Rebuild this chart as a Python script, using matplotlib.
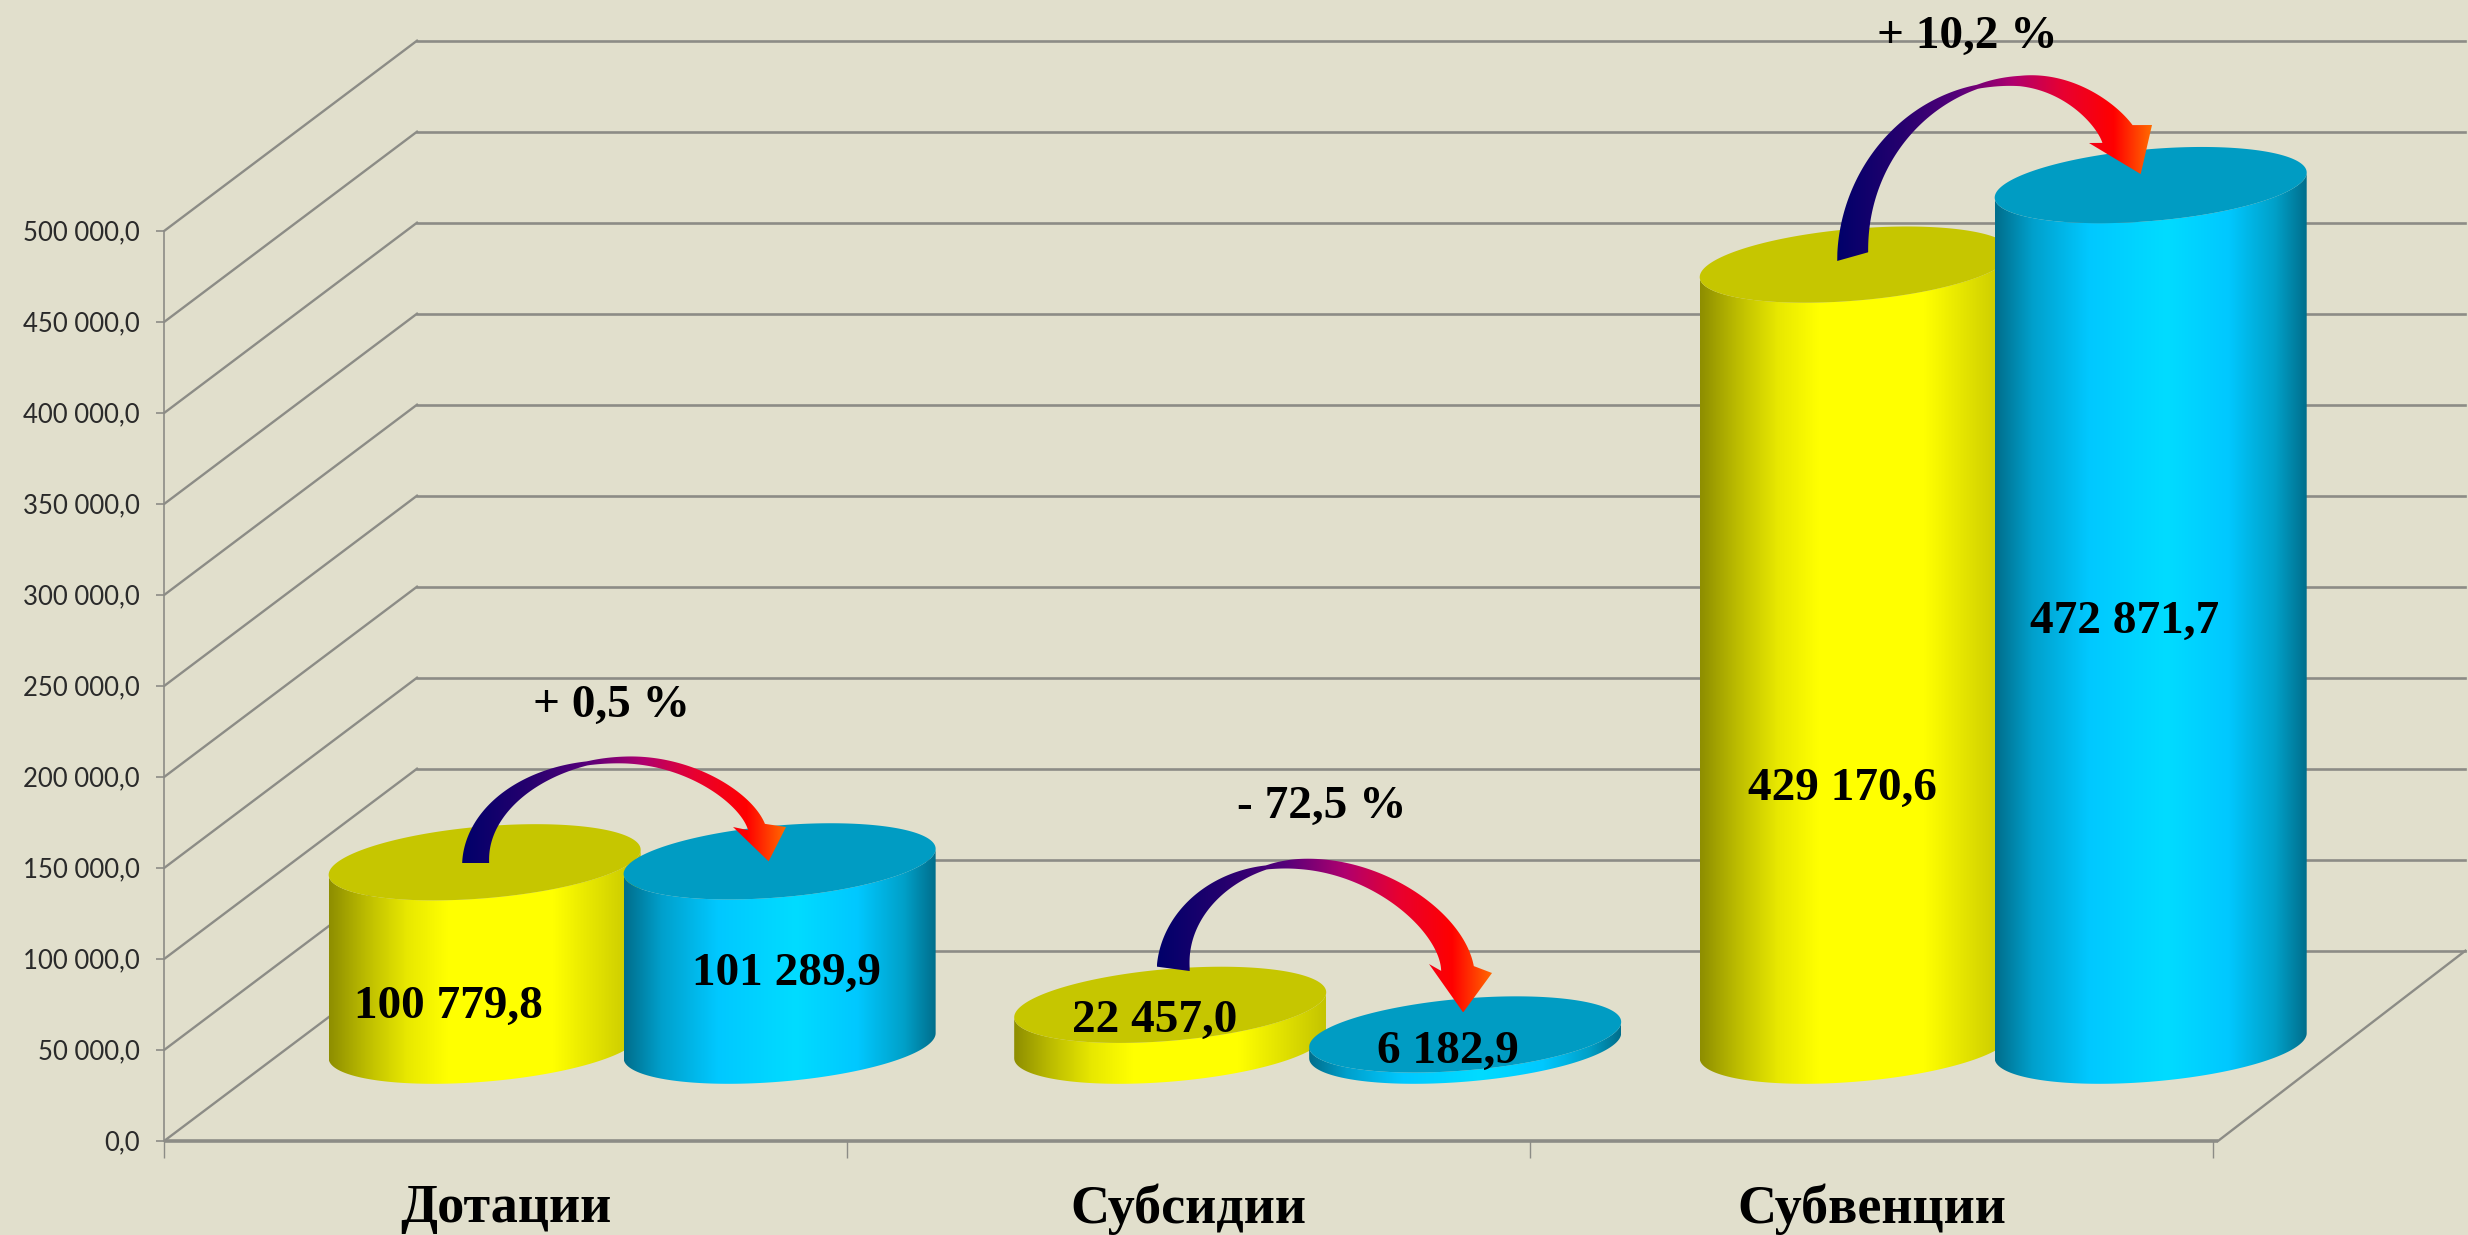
import numpy as np
import matplotlib
matplotlib.use('Agg')
import matplotlib.pyplot as plt
from matplotlib.colors import LinearSegmentedColormap
from matplotlib.patches import Polygon

# Dades
categories = ['Дотации', 'Субсидии', 'Субвенции']
values_yellow = [100779.8, 22457.0, 429170.6]
values_blue = [101289.9, 6182.9, 472871.7]
changes = ['+ 0,5 %', '- 72,5 %', '+ 10,2 %']
y_ticks = [0, 50000, 100000, 150000, 200000, 250000, 300000, 350000, 400000, 450000, 500000]
y_tick_labels = ['0,0', '50 000,0', '100 000,0', '150 000,0', '200 000,0', '250 000,0',
                 '300 000,0', '350 000,0', '400 000,0', '450 000,0', '500 000,0']

# Escales (pixels de la figura)
W, H = 2468, 1235
X0, Y0 = 164.5, 1140.7
PX_CAT = 682.8
PX_VAL = 91 / 50000
DX = 252.5 / PX_CAT
DY = 190 / PX_VAL
BG = '#E1DFCC'
GRID = '#8C8C86'
SERIF = 'Liberation Serif'

# Cilindres
radius_x = 156 / PX_CAT
radius_y = 36 / PX_VAL
slant = 12.5 / PX_VAL
offset = 0.216
slot = 1.004

yellow_cmap = LinearSegmentedColormap.from_list('yellow', [
    (0, '#8E8E00'), (0.12, '#BDBD00'), (0.25, '#E8E800'), (0.38, '#FFFF00'),
    (0.72, '#FFFF00'), (1, '#C4C400')])
blue_cmap = LinearSegmentedColormap.from_list('blue', [
    (0, '#006E8C'), (0.12, '#00A0CC'), (0.3, '#00C8FF'), (0.55, '#00DCFF'),
    (0.75, '#00C8FF'), (0.9, '#00A0C8'), (1, '#006E8C')])
arrow_cmap = LinearSegmentedColormap.from_list('arrow', [
    (0, '#00006A'), (0.2, '#25006E'), (0.38, '#55007A'), (0.56, '#B0006E'),
    (0.72, '#E80030'), (0.88, '#FF0000'), (1, '#FF6A00')])

# Fletxes: inici i punta respecte de les tapes, cim i cap en pixels
arrow_start = [(-9, 1), (3, -36), (-3, -8)]
arrow_tilt = [0, 2, -4.5]
arrow_tip = [(-11, 0), (-2, -22), (-10, -11)]
arrow_peak = [(625, 760), (1298, 864), (2020, 81)]
arrow_head_left = [(733, 827), (1429, 964), (2089, 143)]
arrow_head_right = [(786, 827), (1492, 973), (2152, 125)]
arrow_widths = [(27, 18), (33, 33), (31, 35)]

value_label_px = [[(448, 1007), (786, 974)], [(1155, 1021), (1448, 1052)], [(1842, 789), (2125, 622)]]
change_label_px = [(611, 706), (1322, 807), (1967, 37)]


def px(x, y):
    return (np.asarray(x) - X0) / PX_CAT, (Y0 - np.asarray(y)) / PX_VAL


def to_px(x, y):
    return X0 + x * PX_CAT, Y0 - y * PX_VAL


def ellipse(cx, cy, t):
    return cx + radius_x * np.cos(t), cy + slant * np.cos(t) + radius_y * np.sin(t)


def gradient_fill(ax, verts, cmap, zorder):
    verts = np.asarray(verts)
    im = ax.imshow(np.linspace(0, 1, 256)[None, :], cmap=cmap, aspect='auto', interpolation='bilinear',
                   extent=[verts[:, 0].min(), verts[:, 0].max(), verts[:, 1].min(), verts[:, 1].max()],
                   zorder=zorder)
    clip = Polygon(verts, closed=True, transform=ax.transData)
    im.set_clip_path(clip)


def cylinder(ax, cx, value, cmap, top_color, zorder):
    base = 0.5 * DY
    top = base + value
    xf, yf = ellipse(cx, base, np.linspace(np.pi, 2 * np.pi, 120))
    xt, yt = ellipse(cx, top, np.linspace(2 * np.pi, np.pi, 120))
    gradient_fill(ax, np.column_stack([np.r_[xf, xt], np.r_[yf, yt]]), cmap, zorder)
    xe, ye = ellipse(cx, top, np.linspace(0, 2 * np.pi, 240))
    ax.fill(xe, ye, color=top_color, lw=0, zorder=zorder + 0.1)
    return cx, top


def arrow(ax, start, tilt, peak, head_l, head_r, tip, widths, zorder):
    bx, by = (head_l[0] + head_r[0]) / 2 - 3, (head_l[1] + head_r[1]) / 2
    th = np.linspace(0, np.pi / 2, 80)
    x1 = peak[0] - (peak[0] - start[0]) * np.cos(th)
    y1 = peak[1] + (start[1] - peak[1]) * (1 - np.sin(th))
    # baixada: bezier cubica cap a la direccio del cap
    d = np.array([tip[0] - bx, tip[1] - by])
    d = d / np.hypot(*d)
    t = np.linspace(0, 1, 80)
    p1x, p1y = peak[0] + 0.5 * (bx - peak[0]), peak[1]
    p2x, p2y = bx - 0.45 * (by - peak[1]) * d[0], by - 0.45 * (by - peak[1]) * d[1]
    x2 = (1 - t) ** 3 * peak[0] + 3 * (1 - t) ** 2 * t * p1x + 3 * (1 - t) * t ** 2 * p2x + t ** 3 * bx
    y2 = (1 - t) ** 3 * peak[1] + 3 * (1 - t) ** 2 * t * p1y + 3 * (1 - t) * t ** 2 * p2y + t ** 3 * by
    xc, yc = np.r_[x1, x2[1:]], np.r_[y1, y2[1:]]
    u = np.linspace(0, 1, len(xc))
    # la banda s'aprima just abans del cim
    w = np.where(u < 0.42, widths[0] + (4 - widths[0]) * (u / 0.42) ** 1.2,
                 4 + (widths[1] - 4) * ((u - 0.42) / 0.58) ** 0.8)
    tx, ty = np.gradient(xc), np.gradient(yc)
    n = np.hypot(tx, ty)
    nx, ny = -ty / n, tx / n
    side_a = np.column_stack([xc + nx * w / 2, yc + ny * w / 2])
    side_b = np.column_stack([xc - nx * w / 2, yc - ny * w / 2])
    side_a[0, 1] += tilt
    side_b[0, 1] -= tilt
    # contorn en pixels: costat interior, cap, costat exterior
    verts = np.vstack([side_a, [head_l], [tip], [head_r], side_b[::-1]])
    dx, dy = px(verts[:, 0], verts[:, 1])
    gradient_fill(ax, np.column_stack([dx, dy]), arrow_cmap, zorder)


fig = plt.figure(figsize=(W / 100, H / 100), dpi=100, facecolor=BG)
ax = fig.add_axes([0, 0, 1, 1], facecolor=BG)

# Parets i terra
for v in y_ticks:
    ax.plot([0, DX], [v, v + DY], color=GRID, lw=1.7, zorder=1)
    ax.plot([DX, 3 + DX], [v + DY, v + DY], color=GRID, lw=1.9, zorder=1)
ax.plot([3.008, 3 + DX], [0, DY], color=GRID, lw=1.7, zorder=1)
ax.plot([0, 3.008], [0, 0], color=GRID, lw=2.6, zorder=1, solid_capstyle='butt')

tops = []
for i in range(len(categories)):
    c = 0.5 + i * slot + 0.5 * DX
    zi = 3 + i
    ty = cylinder(ax, c - offset, values_yellow[i], yellow_cmap, '#C6C600', zi)
    tb = cylinder(ax, c + offset, values_blue[i], blue_cmap, '#009CC3', zi + 0.3)
    tops.append((ty, tb))

for i in range(len(categories)):
    (xa, ya), (xb, yb) = tops[i]
    ax_px, ay_px = to_px(xa, ya)
    bx_px, by_px = to_px(xb, yb)
    start = (ax_px + arrow_start[i][0], ay_px + arrow_start[i][1])
    tip = (bx_px + arrow_tip[i][0], by_px + arrow_tip[i][1])
    arrow(ax, start, arrow_tilt[i], arrow_peak[i], arrow_head_left[i], arrow_head_right[i], tip, arrow_widths[i], 8)
    for j, v in enumerate([values_yellow[i], values_blue[i]]):
        txt = f'{v:,.1f}'.replace(',', ' ').replace('.', ',')
        lx, ly = px(*value_label_px[i][j])
        ax.text(lx, ly, txt, family=SERIF, weight='bold', fontsize=34, ha='center', va='center', zorder=9)
    lx, ly = px(*change_label_px[i])
    ax.text(lx, ly, changes[i], family=SERIF, weight='bold', fontsize=34, ha='center', va='center', zorder=9)

# Eixos
ax.set_xlim(-X0 / PX_CAT, (W - X0) / PX_CAT)
ax.set_ylim((Y0 - H) / PX_VAL, Y0 / PX_VAL)
for side in ['top', 'right']:
    ax.spines[side].set_visible(False)
ax.spines['left'].set_position(('data', 0))
ax.spines['bottom'].set_position(('data', 0))
ax.spines['left'].set_bounds(0, 500000)
ax.spines['bottom'].set_visible(False)
ax.spines['left'].set_color(GRID)
ax.spines['left'].set_linewidth(1.2)
ax.set_yticks(y_ticks, y_tick_labels)
ax.tick_params(axis='y', length=6, width=1.2, color=GRID, pad=12, labelsize=18.5, labelcolor='#2A2A2A')
for t in ax.get_yticklabels():
    t.set_family('Lato')
    t.set_weight('normal')
ax.set_xticks([0, 1, 2, 3], ['', '', '', ''])
ax.tick_params(axis='x', length=12, width=1, color=GRID)
ax.set_xticks([0.5, 1.5, 2.5], categories, minor=True)
ax.tick_params(axis='x', which='minor', length=0, pad=31, labelsize=39)
for t in ax.get_xticklabels(minor=True):
    t.set_family(SERIF)
    t.set_weight('bold')

fig.savefig('out.png', dpi=100, facecolor=BG)
